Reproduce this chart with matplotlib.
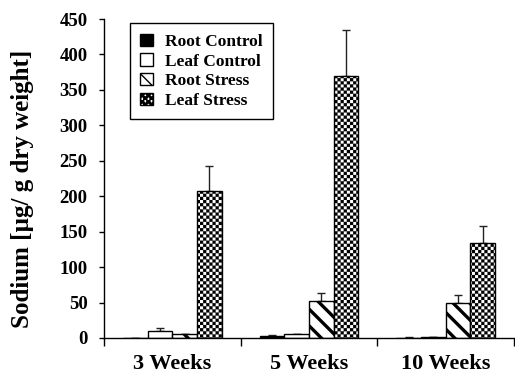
import numpy as np
import matplotlib
matplotlib.use("Agg")
import matplotlib.pyplot as plt
import matplotlib.hatch as mhatch
from matplotlib.path import Path
from matplotlib.ticker import FixedLocator

# ---------------- data ----------------
groups = ["3 Weeks", "5 Weeks", "10 Weeks"]
series = ["Root Control", "Leaf Control", "Root Stress", "Leaf Stress"]
root_control = [0.0, 3.0, 0.5]
leaf_control = [10.0, 5.0, 1.0]
root_stress = [6.0, 52.0, 50.0]
leaf_stress = [207.0, 370.0, 134.0]
root_control_err = [0.0, 1.0, 0.5]
leaf_control_err = [4.0, 1.0, 0.5]
root_stress_err = [0.0, 11.0, 10.0]
leaf_stress_err = [36.0, 65.0, 24.0]
yticks = [0, 50, 100, 150, 200, 250, 300, 350, 400, 450]


# ---------------- checkerboard hatch (responds to 'O') ----------------
class CheckerHatch(mhatch.HatchPatternBase):
    def __init__(self, hatch, density):
        self.n = hatch.count('O') * 16
        self.num_vertices = (self.n * self.n // 2) * 5 if self.n else 0

    def set_vertices_and_codes(self, vertices, codes):
        s = 1.0 / self.n
        k = 0
        for i in range(self.n):
            for j in range(self.n):
                if (i + j) % 2 == 0:
                    x0, y0 = i * s, j * s
                    vertices[k:k + 5] = [(x0, y0), (x0 + s, y0), (x0 + s, y0 + s),
                                         (x0, y0 + s), (x0, y0)]
                    codes[k:k + 5] = [Path.MOVETO, Path.LINETO, Path.LINETO,
                                      Path.LINETO, Path.CLOSEPOLY]
                    k += 5


mhatch._hatch_types = [t for t in mhatch._hatch_types if t is not mhatch.LargeCircles] + [CheckerHatch]

plt.rcParams['font.family'] = ['Liberation Serif', 'DejaVu Serif']
plt.rcParams['font.weight'] = 'bold'

fig = plt.figure(figsize=(5.15, 3.75), dpi=100)
ax = fig.add_axes([104 / 515, 37 / 375, 410 / 515, 319 / 375])

x = np.arange(len(groups))
w = 0.18
vals = [root_control, leaf_control, root_stress, leaf_stress]
errs = [root_control_err, leaf_control_err, root_stress_err, leaf_stress_err]
faces = ['black', 'white', 'white', 'white']
hatches = [None, None, '\\\\', 'OO']
hlw = [1.0, 1.0, 2.4, 0.1]

for k in range(4):
    pos = x + (k - 1.5) * w
    bars = ax.bar(pos, vals[k], width=w, color=faces[k], edgecolor='black',
                  linewidth=1.0, hatch=hatches[k], label=series[k], zorder=2)
    for b in bars:
        if hasattr(b, 'set_hatch_linewidth'):
            b.set_hatch_linewidth(hlw[k])
    ax.errorbar(pos, vals[k], yerr=[np.zeros(3), errs[k]], fmt='none',
                ecolor='#222222', elinewidth=1.0, capsize=3.2, capthick=1.0, zorder=1)

ax.set_xlim(-0.5, 2.5)
ax.set_ylim(0, 450)
ax.set_yticks(yticks)
ax.set_xticks(x)
ax.set_xticklabels(groups)
ax.xaxis.set_minor_locator(FixedLocator([-0.5, 0.5, 1.5, 2.5]))
ax.tick_params(axis='x', which='major', length=0, pad=11.5, labelsize=16)
ax.tick_params(axis='x', which='minor', length=6, width=1, direction='out')
ax.tick_params(axis='y', length=3.8, width=1, direction='out', pad=8, labelsize=13.5)
for s in ['top', 'right']:
    ax.spines[s].set_visible(False)
for s in ['left', 'bottom']:
    ax.spines[s].set_linewidth(1.0)

ax.set_ylabel('Sodium [µg/ g dry weight]', fontsize=18, fontweight='bold',
              va='center', ha='center')
ax.yaxis.set_label_coords(-0.198, 0.467)

leg = ax.legend(loc='upper left', bbox_to_anchor=(0.063, 0.987), fancybox=False,
                edgecolor='black', framealpha=1, fontsize=12.5, handlelength=0.75,
                handleheight=0.72, handletextpad=0.7, labelspacing=0.2,
                borderpad=0.6, borderaxespad=0)
leg.get_frame().set_linewidth(1.0)
for t in leg.get_texts():
    t.set_fontweight('bold')

fig.savefig('out.png', dpi=100)
